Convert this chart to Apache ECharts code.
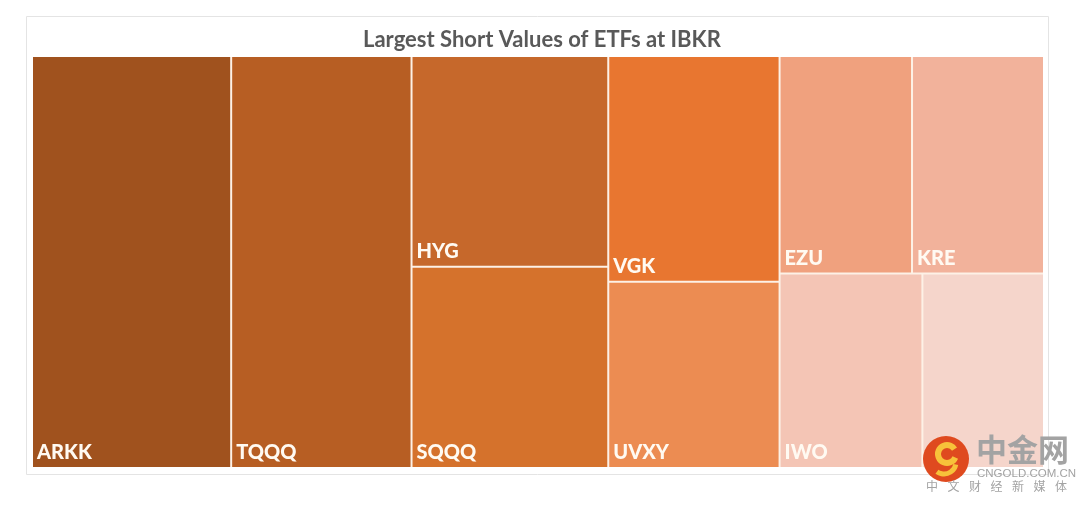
<!DOCTYPE html>
<html>
<head>
<meta charset="utf-8">
<script src="https://cdn.jsdelivr.net/npm/echarts@6/dist/echarts.min.js"></script>
<style>
html,body{margin:0;padding:0;background:#fff;}
#chart{width:1080px;height:505px;}
</style>
</head>
<body>
<div id="chart"></div>
<script>
const title = 'Largest Short Values of ETFs at IBKR';
const names = ['ARKK', 'TQQQ', 'HYG', 'SQQQ', 'VGK', 'UVXY', 'EZU', 'KRE', 'IWO', ''];
const values = [81.5, 73.8, 41.2, 39.3, 38.4, 31.7, 28.6, 28.5, 27.6, 23.5];
const groups = [[0], [1], [2, 3], [4, 5], [[6, 7], [8, 9]]];
const palette = ['#A0521E', '#B75E23', '#C6682B', '#D5722C', '#E87630', '#EC8C52', '#F0A17E', '#F2B29B', '#F4C5B5', '#F5D5CB'];
const watermarkChars = ['中', '文', '财', '经', '新', '媒', '体'];

function leaf(i) {
  return { name: names[i], value: values[i], itemStyle: { color: palette[i] } };
}
function build(g) {
  if (typeof g === 'number') return leaf(g);
  if (g.length === 1) return build(g[0]);
  return { name: '', children: g.map(build) };
}
const treeData = groups.map(build);

const graphics = [
  { type: 'rect', shape: { x: 26.5, y: 16.5, width: 1022, height: 458 }, style: { fill: 'none', stroke: '#e4e4e4', lineWidth: 1 }, z: -10, silent: true },
  { type: 'circle', shape: { cx: 946, cy: 459, r: 23 }, style: { fill: '#DF4A1F' }, z: 100, silent: true },
  { type: 'arc', shape: { cx: 947, cy: 454, r: 9, startAngle: 0.4, endAngle: 5.7 }, style: { stroke: '#F7C23A', lineWidth: 6, fill: 'none' }, z: 101, silent: true },
  { type: 'arc', shape: { cx: 944, cy: 462, r: 12, startAngle: 0.2, endAngle: 2.2 }, style: { stroke: '#F7C23A', lineWidth: 5, fill: 'none' }, z: 101, silent: true },
  { type: 'text', x: 976, y: 434, style: { text: '中金网', font: 'bold 31px "Noto Sans CJK SC"', fill: '#a3a3a3' }, z: 100, silent: true },
  { type: 'text', x: 977, y: 468, style: { text: 'CNGOLD.COM.CN', font: '11.5px "Liberation Sans"', fill: '#a3a3a3' }, z: 100, silent: true }
];
watermarkChars.forEach(function (c, i) {
  graphics.push({ type: 'text', x: 926 + i * 21.5, y: 480, style: { text: c, font: '12px "Noto Sans CJK SC"', fill: '#a3a3a3' }, z: 100, silent: true });
});

const chart = echarts.init(document.getElementById('chart'), null, { renderer: 'canvas' });
chart.setOption({
  backgroundColor: '#ffffff',
  animation: false,
  title: {
    text: title,
    left: 358,
    top: 24,
    textStyle: { fontFamily: 'Lato', fontWeight: 'bold', fontSize: 22, color: '#595959' }
  },
  graphic: graphics,
  series: [{
    type: 'treemap',
    left: 33,
    top: 57,
    width: 1010,
    height: 410,
    sort: false,
    squareRatio: 0.5,
    roam: false,
    nodeClick: false,
    breadcrumb: { show: false },
    itemStyle: { borderWidth: 0, gapWidth: 2, borderColor: '#fdf1e6' },
    levels: [
      { itemStyle: { borderWidth: 0, gapWidth: 2, borderColor: '#fdf1e6' } },
      { itemStyle: { borderWidth: 0, gapWidth: 2, borderColor: '#fdf1e6' } },
      { itemStyle: { borderWidth: 0, gapWidth: 2, borderColor: '#fdf1e6' } },
      { itemStyle: { borderWidth: 0, gapWidth: 2, borderColor: '#fdf1e6' } }
    ],
    label: {
      show: true,
      position: 'insideBottomLeft',
      distance: 4,
      offset: [-5, 5],
      formatter: '{b}',
      fontFamily: 'Lato',
      fontWeight: 900,
      fontSize: 20,
      color: '#fffaf2'
    },
    upperLabel: { show: false },
    emphasis: { disabled: true },
    data: treeData
  }]
});
</script>
</body>
</html>
